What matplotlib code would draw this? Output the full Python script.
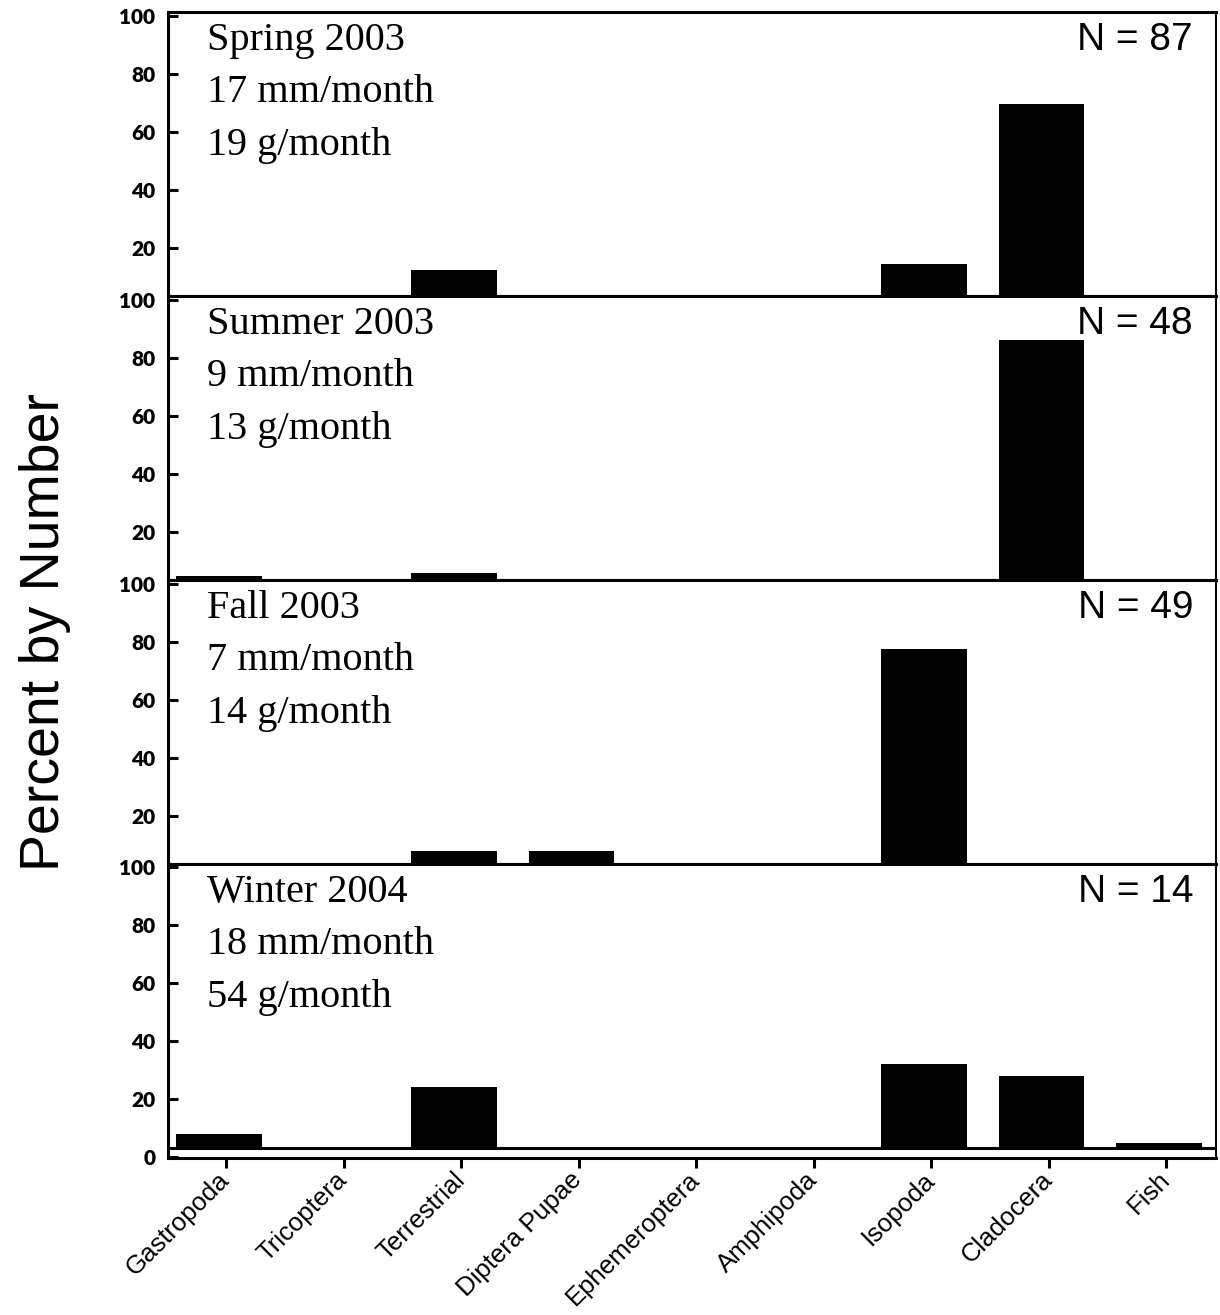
import numpy as np
import matplotlib
matplotlib.use("Agg")
import matplotlib.pyplot as plt

# ---------- data ----------
categories = ['Gastropoda', 'Tricoptera', 'Terrestrial', 'Diptera Pupae',
              'Ephemeroptera', 'Amphipoda', 'Isopoda', 'Cladocera', 'Fish']
spring = [0, 0, 12.4, 0, 0, 0, 14.5, 69.7, 0]
summer = [4.9, 0, 5.9, 0, 0, 0, 0, 86.2, 0]
fall = [0, 0, 7.8, 7.8, 0, 0, 77.6, 0, 0]
winter = [8.1, 0, 24.0, 0, 0, 0, 32.1, 28.0, 5.0]

seasons = ['Spring 2003', 'Summer 2003', 'Fall 2003', 'Winter 2004']
rain = ['17 mm/month', '9 mm/month', '7 mm/month', '18 mm/month']
growth = ['19 g/month', '13 g/month', '14 g/month', '54 g/month']
n_fish = [87, 48, 49, 14]
series = [spring, summer, fall, winter]

# ---------- layout (pixels) ----------
W, H = 1220, 1315
LEFT, RIGHT = 168, 1216
tops = [12, 296, 580, 864]
bottoms = [296, 580, 864, 1158]
PX_PER_UNIT = 2.9
BASE = 3.2          # baseline of the bars in the bottom panel
text_base = [38, 90, 143]   # baselines of the three panel labels below panel top


def rect(l, t, r, b):
    return [l / W, 1 - b / H, (r - l) / W, (b - t) / H]


fig = plt.figure(figsize=(W / 100, H / 100), dpi=100)

x = np.arange(len(categories))
xlim = ((LEFT - 226) / 117.5, (RIGHT - 226) / 117.5)
bar_w = 0.73
bar_off = -0.06

for i, vals in enumerate(series):
    ax = fig.add_axes(rect(LEFT, tops[i], RIGHT, bottoms[i]))
    vals = np.array(vals, dtype=float)
    ph = bottoms[i] - tops[i]
    if i < len(series) - 1:
        ax.set_ylim(10 / PX_PER_UNIT, 100 + 4 / PX_PER_UNIT)
        ax.bar(x + bar_off, vals, width=bar_w, color='black')
        ax.set_yticks([20, 40, 60, 80, 100])
        ax.set_xticks([])
    else:
        ax.set_ylim(-1 / PX_PER_UNIT, 100 + 3 / PX_PER_UNIT)
        keep = vals > 0
        ax.bar(x[keep] + bar_off, vals[keep] - BASE, bottom=BASE,
               width=bar_w, color='black')
        ax.axhline(BASE, color='black', lw=2.2)
        ax.set_yticks([0, 20, 40, 60, 80, 100])
        ax.set_xticks(x)
        ax.set_xticklabels(categories, rotation=45, ha='right', va='center',
                           rotation_mode='anchor', fontsize=18.5,
                           family='Liberation Sans')
        ax.tick_params(axis='x', direction='out', length=7, width=2.2, pad=6)
    ax.set_xlim(*xlim)
    ax.set_yticklabels([str(t) for t in ax.get_yticks().astype(int)],
                       family='Lato', fontweight='heavy', fontsize=15)
    ax.tick_params(axis='y', direction='in', length=7, width=2.2, pad=9)
    for s in ['left', 'top', 'bottom']:
        ax.spines[s].set_linewidth(2.2)
    ax.spines['right'].set_linewidth(1.5)

    # season / rainfall / growth labels
    for k, txt in enumerate([seasons[i], rain[i], growth[i]]):
        ax.text((207 - LEFT) / (RIGHT - LEFT), 1 - text_base[k] / ph,
                txt, transform=ax.transAxes, family='Liberation Serif',
                fontsize=29, va='baseline', ha='left')
    ax.text((1193 - LEFT) / (RIGHT - LEFT), 1 - 38 / ph,
            f'N = {n_fish[i]}', transform=ax.transAxes,
            family='Liberation Sans', fontsize=28, va='baseline', ha='right')

fig.text(45 / W, 1 - 632 / H, 'Percent by Number', rotation=90,
         family='Liberation Sans', fontsize=40, ha='center', va='center')

fig.savefig('out.png', dpi=100)
